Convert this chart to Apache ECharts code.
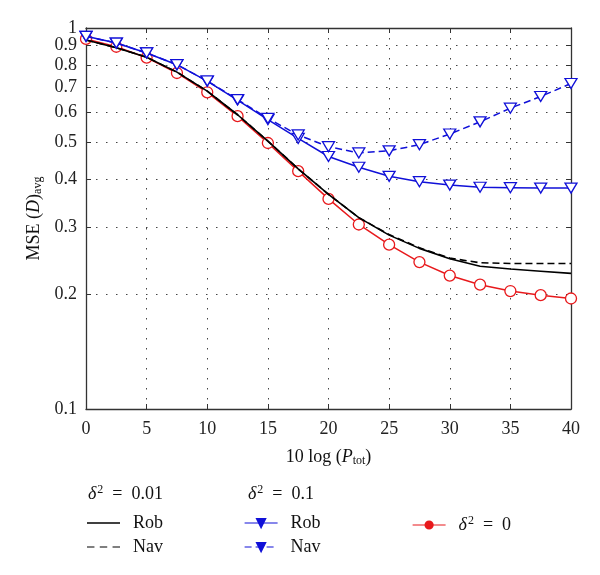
<!DOCTYPE html>
<html>
<head>
<meta charset="utf-8">
<script src="https://cdn.jsdelivr.net/npm/echarts@6/dist/echarts.min.js"></script>
<style>html,body{margin:0;padding:0;background:#fff;}#c{width:600px;height:575px;}</style>
</head>
<body>
<div id="c"></div>
<script>
const xVals = [0, 2.5, 5, 7.5, 10, 12.5, 15, 17.5, 20, 22.5, 25, 27.5, 30, 32.5, 35, 37.5, 40];
const xTicks = [0, 5, 10, 15, 20, 25, 30, 35, 40];
const yTicks = [0.1, 0.2, 0.3, 0.4, 0.5, 0.6, 0.7, 0.8, 0.9, 1];
const yLabelsLow = [0.1, 0.2, 0.3, 0.4, 0.5, 0.6, 0.7, 0.8, 0.9];
const yLabelsTop = [1];
// delta^2 = 0.01
const robSmall = [0.93, 0.888, 0.838, 0.766, 0.683, 0.592, 0.505, 0.427, 0.366, 0.318, 0.286, 0.264, 0.248, 0.237, 0.233, 0.23, 0.227];
const navSmall = [0.93, 0.888, 0.838, 0.766, 0.683, 0.592, 0.505, 0.427, 0.366, 0.318, 0.287, 0.265, 0.249, 0.242, 0.241, 0.241, 0.241];
// delta^2 = 0.1
const robLarge = [0.951, 0.913, 0.86, 0.801, 0.725, 0.647, 0.575, 0.513, 0.46, 0.431, 0.408, 0.395, 0.387, 0.382, 0.381, 0.38, 0.38];
const navLarge = [0.951, 0.913, 0.86, 0.801, 0.726, 0.649, 0.579, 0.524, 0.488, 0.47, 0.476, 0.494, 0.527, 0.567, 0.616, 0.661, 0.715];
// delta^2 = 0
const zeroErr = [0.936, 0.893, 0.836, 0.762, 0.678, 0.587, 0.499, 0.421, 0.356, 0.305, 0.27, 0.243, 0.224, 0.212, 0.204, 0.199, 0.195];

const F = 'Liberation Serif';
const FS = 18;
const BLUE = '#1010d8';
const RED = '#e8191c';
const pairs = arr => xVals.map((x, i) => [x, arr[i]]);
const names = { aRob: 'Rob', aNav: 'Nav', bRob: 'Rob', bNav: 'Nav', zero: '{i|δ}{sup|2}  =  0' };
const rich = {
  i: { fontStyle: 'italic', fontFamily: F, fontSize: FS, color: '#111' },
  sup: { fontFamily: F, fontSize: 12, color: '#111', padding: [0, 0, 8, 1] }
};

function legend(name, left, top, extra) {
  return Object.assign({
    data: [name], left: left, top: top, padding: 0, orient: 'horizontal',
    itemWidth: 33, itemHeight: 10, selectedMode: false,
    formatter: n => names[n],
    textStyle: { fontFamily: F, fontSize: FS, color: '#111', padding: [0, 0, 0, 8], rich: rich }
  }, extra);
}
const headStyle = { fontFamily: F, fontSize: FS, fontWeight: 'normal', color: '#111', rich: rich };
const yLabelStyle = { fontFamily: F, fontSize: FS, color: '#222', margin: 9, formatter: v => String(+(+v).toFixed(2)) };

const chart = echarts.init(document.getElementById('c'), null, { renderer: 'canvas' });
chart.setOption({
  animation: false,
  backgroundColor: '#fff',
  title: [
    { text: '{i|δ}{sup|2}  =  0.01', left: 88, top: 484, padding: 0, textStyle: headStyle },
    { text: '{i|δ}{sup|2}  =  0.1', left: 248, top: 484, padding: 0, textStyle: headStyle }
  ],
  grid: { left: 86, right: 29, top: 28, bottom: 166, containLabel: false },
  legend: [
    legend('aRob', 87, 514, { icon: 'rect', itemHeight: 1.6, itemStyle: { color: '#000', borderWidth: 0 } }),
    legend('aNav', 87, 538, { icon: 'path://M0,0h7v1h-7z M12,0h7v1h-7z M24,0h7v1h-7z', itemHeight: 1.6, itemStyle: { color: '#000', borderWidth: 0 } }),
    legend('bRob', 244, 514, { itemStyle: { color: BLUE, borderColor: BLUE }, lineStyle: { width: 1.2 } }),
    legend('bNav', 244, 538, { itemStyle: { color: BLUE, borderColor: BLUE }, lineStyle: { width: 1.2 } }),
    legend('zero', 412, 515, { itemHeight: 9, itemStyle: { color: RED, borderColor: RED }, lineStyle: { width: 1.2 } })
  ],
  xAxis: [{
    type: 'value', min: 0, max: 40, interval: 5, position: 'bottom',
    axisLine: { show: true, onZero: false, lineStyle: { color: '#333', width: 1.3 } },
    axisTick: { show: true, inside: true, length: 5, lineStyle: { color: '#333' } },
    axisLabel: { fontFamily: F, fontSize: FS, color: '#222', margin: 11, showMinLabel: true, showMaxLabel: true, formatter: v => String(v) },
    splitLine: { show: true, lineStyle: { type: [1.5, 8.5], color: '#444', width: 1 } },
    name: '10 log ({i|P}{sub|tot})', nameLocation: 'middle', nameGap: 39,
    nameTextStyle: { fontFamily: F, fontSize: FS, color: '#111', rich: {
      i: { fontStyle: 'italic', fontFamily: F, fontSize: FS, color: '#111' },
      sub: { fontFamily: F, fontSize: 12, color: '#111', padding: [7, 0, 0, 0] } } }
  }, {
    type: 'value', min: 0, max: 40, interval: 5, position: 'top',
    axisLine: { show: true, onZero: false, lineStyle: { color: '#333', width: 1.3 } },
    axisTick: { show: true, inside: true, length: 5, lineStyle: { color: '#333' } },
    axisLabel: { show: false }, splitLine: { show: false }
  }],
  yAxis: [{
    type: 'log', logBase: 10, min: 0.1, max: 1, position: 'left',
    axisLine: { show: true, onZero: false, lineStyle: { color: '#333', width: 1.3 } },
    axisTick: { show: true, inside: true, length: 5, customValues: yTicks, lineStyle: { color: '#333' } },
    axisLabel: Object.assign({ customValues: yLabelsLow, showMinLabel: true, showMaxLabel: true }, yLabelStyle),
    splitLine: { show: true, lineStyle: { type: [1.5, 8.5], color: '#444', width: 1 } },
    minorTick: { show: false }, minorSplitLine: { show: false },
    name: 'MSE ({i|D}){sub|avg}', nameLocation: 'middle', nameGap: 42, nameRotate: 90,
    nameTextStyle: { fontFamily: F, fontSize: FS, color: '#111', rich: {
      i: { fontStyle: 'italic', fontFamily: F, fontSize: FS, color: '#111' },
      sub: { fontFamily: F, fontSize: 12, color: '#111', padding: [7, 0, 0, 0] } } }
  }, {
    type: 'log', logBase: 10, min: 0.1, max: 1, position: 'right',
    axisLine: { show: true, onZero: false, lineStyle: { color: '#333', width: 1.3 } },
    axisTick: { show: true, inside: true, length: 5, customValues: yTicks, lineStyle: { color: '#333' } },
    axisLabel: { show: false }, splitLine: { show: false }, minorTick: { show: false }
  }, {
    type: 'log', logBase: 10, min: 0.1, max: 1, position: 'left', offset: 0,
    axisLine: { show: false }, axisTick: { show: false }, splitLine: { show: false }, minorTick: { show: false },
    axisLabel: Object.assign({ customValues: yLabelsTop, showMinLabel: true, showMaxLabel: true }, yLabelStyle)
  }],
  series: [
    { name: 'aRob', type: 'line', data: pairs(robSmall), symbol: 'none', smooth: false,
      lineStyle: { color: '#000', width: 1.6 }, itemStyle: { color: '#000' }, z: 3 },
    { name: 'aNav', type: 'line', data: pairs(navSmall), symbol: 'none',
      lineStyle: { color: '#000', width: 1.6, type: [7, 4] }, itemStyle: { color: '#000' }, z: 3 },
    { name: 'zero', type: 'line', data: pairs(zeroErr), symbol: 'circle', symbolSize: 11, showSymbol: true,
      lineStyle: { color: RED, width: 1.5 }, itemStyle: { color: '#fff', borderColor: RED, borderWidth: 1.3 }, z: 2 },
    { name: 'bRob', type: 'line', data: pairs(robLarge), symbol: 'triangle', symbolSize: [12, 10], symbolRotate: 180,
      lineStyle: { color: BLUE, width: 1.5 }, itemStyle: { color: '#fff', borderColor: BLUE, borderWidth: 1.3 }, z: 4 },
    { name: 'bNav', type: 'line', data: pairs(navLarge), symbol: 'triangle', symbolSize: [12, 10], symbolRotate: 180,
      lineStyle: { color: BLUE, width: 1.5, type: [7, 4] }, itemStyle: { color: '#fff', borderColor: BLUE, borderWidth: 1.3 }, z: 4 }
  ]
});
</script>
</body>
</html>
